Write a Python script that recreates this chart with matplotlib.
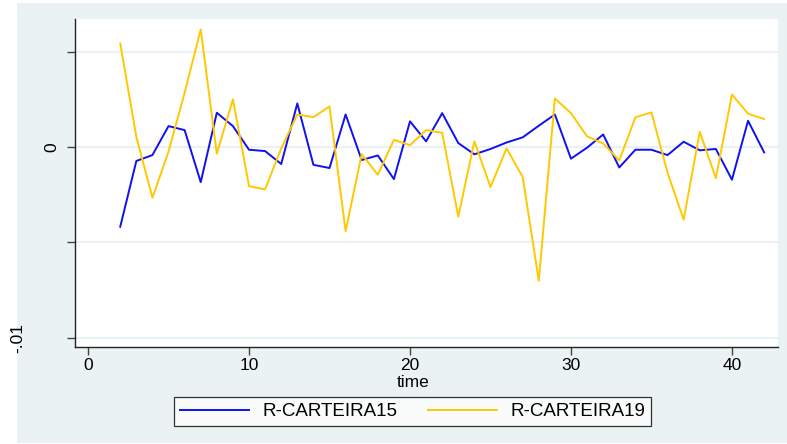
import matplotlib
matplotlib.use("Agg")
import matplotlib.pyplot as plt
from matplotlib.patches import Rectangle
from matplotlib.transforms import ScaledTranslation

time = list(range(2, 43))
r_carteira15 = [-0.00418, -0.00073, -0.00042, 0.00110, 0.00089, -0.00184, 0.00180, 0.00110,
                -0.00014, -0.00021, -0.00089, 0.00229, -0.00093, -0.00110, 0.00171, -0.00068,
                -0.00044, -0.00168, 0.00135, 0.00030, 0.00178, 0.00021, -0.00038, -0.00010,
                0.00024, 0.00051, 0.00112, 0.00171, -0.00061, -0.00003, 0.00066, -0.00107,
                -0.00014, -0.00014, -0.00042, 0.00028, -0.00017, -0.00010, -0.00171, 0.00138,
                -0.00028]
r_carteira19 = [0.00544, 0.00054, -0.00266, -0.00024, 0.00285, 0.00617, -0.00035, 0.00250,
                -0.00205, -0.00222, -0.00007, 0.00171, 0.00157, 0.00213, -0.00441, -0.00037,
                -0.00145, 0.00038, 0.00010, 0.00089, 0.00075, -0.00365, 0.00030, -0.00210,
                -0.00007, -0.00157, -0.00701, 0.00255, 0.00178, 0.00056, 0.00019, -0.00070,
                0.00156, 0.00182, -0.00135, -0.00381, 0.00080, -0.00164, 0.00276, 0.00175,
                0.00147]
series_names = ["R-CARTEIRA15", "R-CARTEIRA19"]
y_ticks = [0.005, 0.0, -0.005, -0.01]
y_ticklabels = ["", "0", "", "-.01"]
x_ticks = [0, 10, 20, 30, 40]
x_label = "time"

BG = "#EAF2F3"
plt.rcParams['font.family'] = ['Liberation Sans', 'DejaVu Sans']

W, H = 787, 444
fig = plt.figure(figsize=(W / 100, H / 100), dpi=100, facecolor="white")
fig.patches.append(Rectangle((17 / W, 1 - 443 / H), 770 / W, 440 / H,
                             transform=fig.transFigure, facecolor=BG,
                             edgecolor="none", zorder=-10))

ax = fig.add_axes([75 / W, 1 - 347 / H, (778 - 75) / W, (347 - 19) / H])
ax.set_facecolor("white")

ax.plot(time, r_carteira15, color="#1010F0", lw=1.4, label=series_names[0], zorder=3)
ax.plot(time, r_carteira19, color="#FFC800", lw=1.4, label=series_names[1], zorder=3)

ax.set_xlim(-0.81, 42.86)
ax.set_ylim(-0.01049, 0.00672)
ax.set_yticks(y_ticks)
ax.set_yticklabels(y_ticklabels, rotation=90, va="center", fontsize=12.5)
ax.set_xticks(x_ticks)
ax.set_xticklabels([str(v) for v in x_ticks], fontsize=12.5)

for y in y_ticks:
    ax.axhline(y, color=BG, lw=1.6, zorder=1)

for side in ["top", "right"]:
    ax.spines[side].set_visible(False)
for side in ["left", "bottom"]:
    ax.spines[side].set_color("#222222")
    ax.spines[side].set_linewidth(1.0)

ax.tick_params(axis="both", direction="out", length=6, width=1.0, color="#444444")
ax.tick_params(axis="y", pad=5)
ax.tick_params(axis="x", pad=2)

# shift the -.01 label leftward as in the reference
lbl = ax.get_yticklabels()[3]
lbl.set_transform(lbl.get_transform() + ScaledTranslation(-0.34, 0, fig.dpi_scale_trans))

fig.text(413 / W, 1 - 382 / H, x_label, ha="center", va="center", fontsize=12.5)

handles, labels = ax.get_legend_handles_labels()
leg = fig.legend(handles, labels, loc="center", bbox_to_anchor=(412.5 / W, 1 - 411.5 / H),
                 ncol=2, fontsize=13.5, frameon=True, fancybox=False, edgecolor="black",
                 handlelength=3.7, handletextpad=0.7, columnspacing=1.6,
                 borderpad=0.3, borderaxespad=0)
leg.get_frame().set_linewidth(0.9)
leg.get_frame().set_facecolor("white")

fig.savefig("out.png", dpi=100, facecolor=fig.get_facecolor())
